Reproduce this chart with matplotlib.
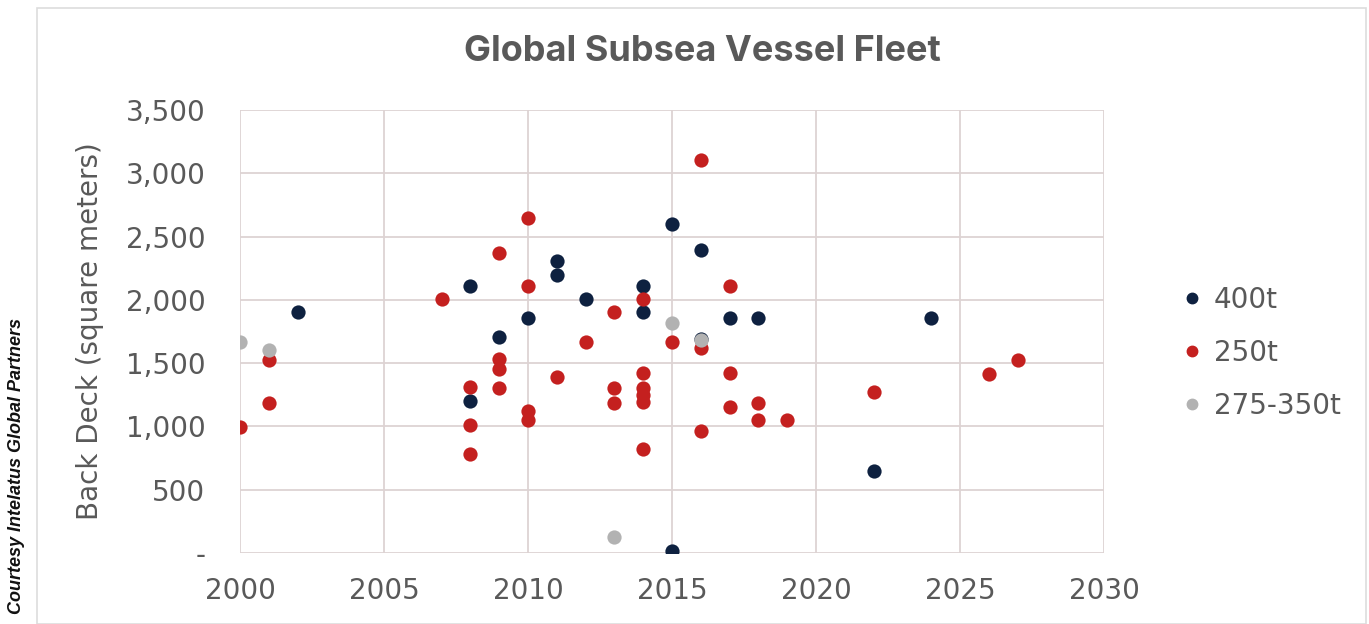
import matplotlib
matplotlib.use("Agg")
import matplotlib.pyplot as plt
from matplotlib.lines import Line2D
from matplotlib.patches import Rectangle

# delivery year vs back deck area (m2)
yr_400 = [2002, 2008, 2008, 2009, 2010, 2011, 2011, 2012, 2014, 2014, 2015, 2015, 2016, 2016, 2017, 2018, 2022, 2024]
deck_400 = [1905, 2110, 1200, 1710, 1855, 2308, 2197, 2010, 2113, 1903, 2599, 15, 2390, 1692, 1855, 1855, 647, 1858]

yr_250 = [2000, 2001, 2001, 2007, 2008, 2008, 2008, 2009, 2009, 2009, 2009,
          2010, 2010, 2010, 2010, 2011, 2012, 2013, 2013, 2013,
          2014, 2014, 2014, 2014, 2014, 2014, 2015, 2016, 2016, 2016,
          2017, 2017, 2017, 2018, 2018, 2019, 2022, 2026, 2027]
deck_250 = [993, 1183, 1525, 2010, 1309, 1011, 779, 2369, 1531, 1452, 1306,
            2646, 2111, 1122, 1051, 1393, 1670, 1903, 1306, 1183,
            2008, 1420, 1306, 1248, 1196, 819, 1670, 3108, 1618, 964,
            2113, 1420, 1156, 1183, 1051, 1051, 1272, 1415, 1525]

yr_mid = [2000, 2001, 2013, 2015, 2016]
deck_mid = [1670, 1604, 127, 1820, 1683]

c400 = "#0e2140"
c250 = "#c4201f"
cmid = "#b2b2b2"
txt = "#595959"
grid = "#ddd3d3"
fnt = "DejaVu Sans"

fig = plt.figure(figsize=(13.69, 6.24), dpi=100)
fig.patches.append(Rectangle((0.027, 0.0), 0.971, 0.987, transform=fig.transFigure,
                             fill=False, edgecolor="#dddddd", linewidth=1.2))
ax = fig.add_axes([0.1753, 0.1138, 0.6311, 0.7099])

ax.scatter(yr_400, deck_400, s=105, color=c400, zorder=3, linewidths=0)
ax.scatter(yr_250, deck_250, s=105, color=c250, zorder=3, linewidths=0)
ax.scatter(yr_mid, deck_mid, s=105, color=cmid, zorder=4, linewidths=0)

ax.set_xlim(2000, 2030)
ax.set_ylim(0, 3500)
ax.set_xticks(range(2000, 2031, 5))
ax.set_yticks(range(0, 3501, 500))
ax.set_yticklabels(["-"] + ["{:,}".format(v) for v in range(500, 3501, 500)])
ax.grid(True, color=grid, linewidth=1.3)
ax.set_axisbelow(True)
for s in ax.spines.values():
    s.set_visible(False)
ax.tick_params(length=0, labelsize=20, labelcolor=txt)
ax.tick_params(axis="x", pad=17)
ax.tick_params(axis="y", pad=25)
for lab in ax.get_xticklabels() + ax.get_yticklabels():
    lab.set_fontfamily(fnt)

ax.set_ylabel("Back Deck (square meters)", fontsize=20, color=txt, fontfamily=fnt)
ax.yaxis.set_label_coords(-0.157, 0.5)
fig.text(0.513, 0.918, "Global Subsea Vessel Fleet", ha="center", va="center",
         fontsize=26, fontweight="bold", color=txt, fontfamily="Inter")

handles = [Line2D([], [], marker="o", linestyle="", color=c, markersize=7.5)
           for c in (c400, c250, cmid)]
leg = fig.legend(handles, ["400t", "250t", "275-350t"], loc="center left",
                 bbox_to_anchor=(0.840, 0.434), frameon=False, handletextpad=0.2,
                 handlelength=1.2, labelspacing=0.9,
                 prop={"family": fnt, "size": 20})
for t in leg.get_texts():
    t.set_color(txt)

fig.text(0.012, 0.253, "Courtesy Intelatus Global Partners", rotation=90,
         ha="center", va="center", fontsize=13, fontweight="bold",
         fontstyle="italic", fontfamily="Liberation Sans", color="#111111")

fig.savefig("out.png", dpi=100)
